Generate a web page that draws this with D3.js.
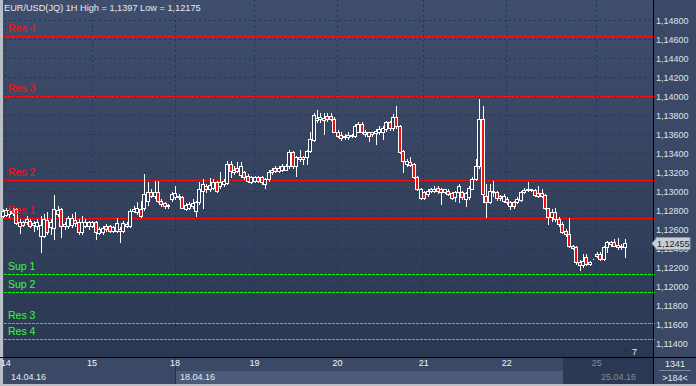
<!DOCTYPE html>
<html>
<head>
<meta charset="utf-8">
<script src="https://cdnjs.cloudflare.com/ajax/libs/d3/7.8.5/d3.min.js"></script>
<style>
  html, body { margin: 0; padding: 0; background: #3b4966; }
  svg { display: block; font-family: "Liberation Sans", Arial, sans-serif; }
</style>
</head>
<body>
<div id="chart"></div>
<script>
// EUR/USD 1H candles, 13.04 23:00 .. 25.04
const opens = [
  1.1274,1.1275,1.1276,1.1280,1.1281,1.1264,1.1268,1.1268,1.1269,1.1265,1.1264,1.1253,1.1253,1.1270,1.1262,1.1261,
  1.1276,1.1281,1.1264,1.1264,1.1265,1.1270,1.1268,1.1257,1.1264,1.1264,1.1264,1.1268,1.1256,1.1257,1.1264,1.1264,
  1.1258,1.1258,1.1260,1.1258,1.1266,1.1264,1.1279,1.1278,1.1281,1.1282,1.1290,1.1299,1.1295,
  1.1299,1.1290,1.1288,1.1285,1.1292,1.1294,1.1295,1.1294,1.1281,1.1283,1.1285,1.1279,1.1289,1.1300,1.1306,1.1303,
  1.1304,1.1310,1.1306,1.1308,1.1309,1.1329,1.1320,1.1325,1.1317,1.1320,1.1316,1.1310,1.1311,1.1315,1.1315,1.1308,
  1.1313,1.1320,1.1325,1.1321,1.1323,1.1323,1.1327,1.1341,1.1327,1.1334,1.1336,1.1336,1.1342,1.1354,1.1375,1.1376,
  1.1375,1.1379,1.1379,1.1376,1.1363,1.1359,1.1357,1.1357,1.1358,1.1358,1.1363,1.1371,1.1363,1.1362,1.1360,1.1361,
  1.1362,1.1362,1.1366,1.1373,1.1367,1.1378,1.1369,1.1342,1.1329,1.1331,1.1329,1.1315,1.1293,1.1299,1.1297,1.1300,
  1.1300,1.1304,1.1302,1.1299,1.1300,1.1298,1.1294,1.1299,1.1299,1.1292,1.1294,1.1303,1.1313,1.1327,1.1376,
  1.1295,1.1289,1.1299,1.1299,1.1295,1.1290,1.1292,1.1285,1.1289,1.1289,1.1291,1.1299,1.1301,1.1302,1.1301,1.1298,
  1.1298,1.1296,1.1282,1.1273,1.1278,1.1271,1.1266,1.1258,1.1255,1.1243,1.1241,1.1226,1.1222,1.1231,1.1224,1.1229,
  1.1232,1.1234,1.1229,1.1241,1.1245,1.1247,1.1244,1.1243,1.1241
];
const highs = [
  1.1281,1.1282,1.1283,1.1282,1.1283,1.1271,1.1269,1.1274,1.1271,1.1269,1.1271,1.1274,1.1276,1.1278,1.1271,1.1296,
  1.1285,1.1283,1.1268,1.1274,1.1276,1.1278,1.1271,1.1274,1.1271,1.1269,1.1269,1.1269,1.1262,1.1264,1.1266,1.1265,
  1.1264,1.1272,1.1262,1.1269,1.1268,1.1281,1.1285,1.1289,1.1290,1.1318,1.1310,1.1302,1.1311,
  1.1311,1.1292,1.1289,1.1287,1.1299,1.1306,1.1297,1.1295,1.1288,1.1289,1.1292,1.1290,1.1310,1.1313,1.1308,1.1314,
  1.1313,1.1311,1.1320,1.1313,1.1332,1.1332,1.1327,1.1331,1.1331,1.1321,1.1318,1.1316,1.1316,1.1316,1.1316,1.1314,
  1.1322,1.1325,1.1327,1.1327,1.1329,1.1329,1.1344,1.1343,1.1337,1.1344,1.1337,1.1344,1.1362,1.1383,1.1386,1.1383,
  1.1383,1.1383,1.1383,1.1378,1.1365,1.1362,1.1360,1.1362,1.1360,1.1371,1.1373,1.1373,1.1365,1.1363,1.1363,1.1366,
  1.1369,1.1369,1.1374,1.1374,1.1381,1.1390,1.1370,1.1344,1.1334,1.1336,1.1330,1.1316,1.1304,1.1300,1.1302,1.1304,
  1.1306,1.1306,1.1304,1.1303,1.1302,1.1299,1.1300,1.1308,1.1300,1.1299,1.1306,1.1315,1.1334,1.1397,1.1390,
  1.1308,1.1308,1.1311,1.1300,1.1296,1.1297,1.1294,1.1290,1.1290,1.1294,1.1300,1.1304,1.1310,1.1303,1.1302,1.1306,
  1.1303,1.1297,1.1283,1.1281,1.1283,1.1273,1.1268,1.1260,1.1272,1.1244,1.1243,1.1228,1.1234,1.1234,1.1227,1.1229,
  1.1236,1.1236,1.1243,1.1248,1.1248,1.1250,1.1251,1.1245,1.1250
];
const lows = [
  1.1273,1.1274,1.1273,1.1275,1.1266,1.1256,1.1264,1.1266,1.1262,1.1258,1.1260,1.1236,1.1252,1.1255,1.1255,1.1250,
  1.1274,1.1252,1.1260,1.1261,1.1262,1.1264,1.1255,1.1255,1.1262,1.1260,1.1262,1.1250,1.1255,1.1255,1.1258,1.1257,
  1.1257,1.1257,1.1247,1.1257,1.1262,1.1262,1.1278,1.1276,1.1273,1.1280,1.1286,1.1294,1.1293,
  1.1289,1.1285,1.1283,1.1283,1.1290,1.1292,1.1292,1.1282,1.1280,1.1281,1.1283,1.1274,1.1287,1.1283,1.1299,1.1300,
  1.1302,1.1299,1.1304,1.1306,1.1308,1.1315,1.1318,1.1320,1.1315,1.1313,1.1310,1.1309,1.1310,1.1310,1.1308,1.1304,
  1.1311,1.1318,1.1320,1.1320,1.1321,1.1322,1.1325,1.1325,1.1316,1.1332,1.1329,1.1329,1.1341,1.1353,1.1373,1.1373,
  1.1360,1.1374,1.1375,1.1362,1.1357,1.1354,1.1355,1.1355,1.1357,1.1357,1.1362,1.1361,1.1358,1.1353,1.1358,1.1350,
  1.1360,1.1355,1.1364,1.1365,1.1365,1.1367,1.1340,1.1320,1.1327,1.1327,1.1314,1.1301,1.1292,1.1292,1.1295,1.1299,
  1.1299,1.1298,1.1287,1.1298,1.1296,1.1292,1.1290,1.1289,1.1292,1.1285,1.1292,1.1302,1.1312,1.1325,1.1289,
  1.1273,1.1288,1.1295,1.1291,1.1291,1.1289,1.1287,1.1281,1.1283,1.1288,1.1290,1.1298,1.1300,1.1300,1.1295,1.1294,
  1.1294,1.1281,1.1266,1.1269,1.1269,1.1264,1.1256,1.1253,1.1241,1.1239,1.1224,1.12175,1.1220,1.1223,1.1223,1.1229,
  1.1231,1.1228,1.1228,1.1236,1.1243,1.1243,1.1239,1.1239,1.1231
];
const closes = [
  1.1279,1.1280,1.1280,1.1277,1.1267,1.1268,1.1265,1.1271,1.1264,1.1267,1.1268,1.1265,1.1271,1.1257,1.1268,1.1281,
  1.1280,1.1264,1.1266,1.1272,1.1272,1.1267,1.1257,1.1268,1.1268,1.1268,1.1268,1.1257,1.1260,1.1261,1.1260,1.1258,
  1.1262,1.1267,1.1258,1.1267,1.1264,1.1279,1.1281,1.1283,1.1274,1.1297,1.1299,1.1295,1.1299,
  1.1290,1.1287,1.1285,1.1286,1.1297,1.1298,1.1294,1.1283,1.1286,1.1287,1.1288,1.1289,1.1302,1.1308,1.1302,1.1307,
  1.1310,1.1300,1.1310,1.1311,1.1329,1.1321,1.1323,1.1321,1.1327,1.1315,1.1311,1.1315,1.1315,1.1311,1.1310,1.1313,
  1.1320,1.1323,1.1321,1.1325,1.1327,1.1327,1.1341,1.1327,1.1336,1.1336,1.1334,1.1342,1.1355,1.1380,1.1377,1.1378,
  1.1377,1.1376,1.1376,1.1363,1.1358,1.1356,1.1358,1.1359,1.1359,1.1369,1.1371,1.1362,1.1360,1.1358,1.1362,1.1364,
  1.1366,1.1367,1.1373,1.1367,1.1378,1.1369,1.1341,1.1332,1.1332,1.1328,1.1315,1.1302,1.1302,1.1293,1.1300,1.1302,
  1.1303,1.1300,1.1299,1.1302,1.1297,1.1293,1.1299,1.1306,1.1294,1.1298,1.1304,1.1313,1.1327,1.1376,1.1297,
  1.1289,1.1300,1.1300,1.1293,1.1293,1.1295,1.1289,1.1289,1.1285,1.1292,1.1299,1.1301,1.1302,1.1301,1.1296,1.1295,
  1.1295,1.1282,1.1273,1.1278,1.1271,1.1266,1.1257,1.1255,1.1243,1.1240,1.1226,1.1222,1.1227,1.1224,1.1226,1.1229,
  1.1234,1.1229,1.1241,1.1247,1.1247,1.1243,1.1241,1.1241,1.12455
];

// first candle index of each day and its label
const dayStarts = [1, 26, 50, 73, 97, 122, 146, 172];
const dayLabels = ['14', '15', '18', '19', '20', '21', '22', '25'];

const priceTicks = [1.114, 1.116, 1.118, 1.120, 1.122, 1.124, 1.126, 1.128, 1.130,
  1.132, 1.134, 1.136, 1.138, 1.140, 1.142, 1.144, 1.146, 1.148];

// support / resistance lines
const levelNames = ['Res 4', 'Res 3', 'Res 2', 'Res 1', 'Sup 1', 'Sup 2', 'Res 3', 'Res 4'];
const levelValues = [1.1464, 1.1400, 1.1312, 1.1272, 1.1213, 1.1194, 1.1161, 1.1145];
const levelSide = ['up', 'up', 'up', 'up', 'down', 'down', 'down', 'down'];

const title = 'EUR/USD(JQ) 1H High = 1,1397 Low = 1,12175';
const lastPrice = closes[closes.length - 1];

const width = 696;
const height = 386;
const plot = { left: 4, right: 653, top: 0, bottom: 357 };

const fmt = v => d3.format('.5f')(v).replace('.', ',');

const x = d3.scaleLinear()
  .domain([0, closes.length - 1])
  .range([3.5, 625.5]);

const y = d3.scaleLinear()
  .domain([1.114, 1.148])
  .range([343.4, 20.4]);

const svg = d3.select('#chart')
  .append('svg')
    .attr('width', width)
    .attr('height', height);

const defs = svg.append('defs');
const grad = defs.append('linearGradient')
  .attr('id', 'bg')
  .attr('x1', 0).attr('y1', 0).attr('x2', 0).attr('y2', 1);
grad.append('stop').attr('offset', 0).attr('stop-color', '#3f4e6c');
grad.append('stop').attr('offset', 1).attr('stop-color', '#2b3852');

// frame
svg.append('rect')
  .attr('width', width).attr('height', height)
  .attr('fill', '#3b4966');
svg.append('rect')
  .attr('x', plot.left).attr('y', plot.top)
  .attr('width', plot.right - plot.left).attr('height', plot.bottom - plot.top)
  .attr('fill', 'url(#bg)');
svg.append('rect')
  .attr('x', 0).attr('y', 0).attr('width', 3).attr('height', height)
  .attr('fill', '#b9bec7');
svg.append('rect')
  .attr('x', 0).attr('y', height - 2).attr('width', width).attr('height', 2)
  .attr('fill', '#b9bec7');

const chart = svg.append('g');

// grid
chart.append('g')
  .selectAll('line')
  .data(priceTicks)
  .join('line')
    .attr('x1', plot.left).attr('x2', plot.right)
    .attr('y1', d => Math.round(y(d)) + 0.5)
    .attr('y2', d => Math.round(y(d)) + 0.5)
    .attr('stroke', '#1d3560')
    .attr('stroke-dasharray', '2,3');

chart.append('g')
  .selectAll('line')
  .data(dayStarts)
  .join('line')
    .attr('x1', d => Math.round(x(d - 0.5)) + 0.5)
    .attr('x2', d => Math.round(x(d - 0.5)) + 0.5)
    .attr('y1', plot.top).attr('y2', plot.bottom)
    .attr('stroke', '#1d3560')
    .attr('stroke-dasharray', '2,3');

// levels, drawn as short dashes
const levelColor = s => s === 'up' ? '#ff1414' : '#1cf01c';
const dashes = d3.range(plot.left, plot.right, 4);
const levelRows = chart.append('g')
  .selectAll('g')
  .data(levelValues)
  .join('g')
    .attr('fill', (d, i) => levelColor(levelSide[i]));

levelRows.selectAll('rect')
  .data(d => dashes.map(dx => ({ dx, v: d })))
  .join('rect')
    .attr('x', d => d.dx)
    .attr('y', d => Math.round(y(d.v)))
    .attr('width', 3)
    .attr('height', 1);

// candles
const candles = chart.append('g');

const idx = d3.range(closes.length);

candles.selectAll('rect.wick')
  .data(idx)
  .join('rect')
    .attr('class', 'wick')
    .attr('x', i => Math.round(x(i)) - 1)
    .attr('y', i => Math.round(y(highs[i])))
    .attr('width', 1)
    .attr('height', i => Math.round(y(lows[i])) - Math.round(y(highs[i])) + 1)
    .attr('fill', '#ffffff');

candles.selectAll('rect.body')
  .data(idx)
  .join('rect')
    .attr('class', 'body')
    .attr('x', i => Math.round(x(i)) - 2.5)
    .attr('y', i => Math.round(y(Math.max(opens[i], closes[i]))) + 0.5)
    .attr('width', 3)
    .attr('height', i => Math.max(0, Math.round(y(Math.min(opens[i], closes[i]))) - Math.round(y(Math.max(opens[i], closes[i])))))
    .attr('fill', i => closes[i] < opens[i] ? '#ee1111' : '#2f3c58')
    .attr('stroke', '#ffffff');

// level labels
svg.append('g')
  .selectAll('text')
  .data(levelNames)
  .join('text')
    .attr('x', 8)
    .attr('y', (d, i) => Math.round(y(levelValues[i])) - 4)
    .attr('fill', (d, i) => levelSide[i] === 'up' ? '#ff1010' : '#33ff33')
    .attr('font-size', 10.5)
    .text(d => d);

// title
svg.append('text')
  .attr('x', 4).attr('y', 11)
  .attr('fill', '#e6eaf0')
  .attr('font-size', 9.2)
  .text(title);

// right price axis
svg.append('rect')
  .attr('x', plot.right).attr('y', 0).attr('width', 1).attr('height', height - 2)
  .attr('fill', '#000');

const axisY = d3.axisRight(y)
  .tickValues(priceTicks)
  .tickSize(0)
  .tickPadding(3)
  .tickFormat(fmt);

svg.append('g')
  .attr('transform', `translate(${plot.right}, 0)`)
  .call(axisY)
  .call(g => g.select('.domain').remove())
  .call(g => g.selectAll('text')
    .attr('fill', '#dfe4ec')
    .attr('font-size', 9)
    .attr('font-family', '"Liberation Sans", Arial, sans-serif'));

// last price tag (covers the 1,12400 label as in the terminal)
const tagY = Math.round(y(lastPrice)) + 0.5;
svg.append('path')
  .attr('d', `M${plot.right - 1},${tagY} L${plot.right + 3},${tagY - 5} L${plot.right + 3},${tagY - 6} L${plot.right + 37},${tagY - 6} L${plot.right + 37},${tagY + 6} L${plot.right + 3},${tagY + 6} L${plot.right + 3},${tagY + 5} Z`)
  .attr('fill', '#c9cdd4')
  .attr('stroke', '#8f96a3');
svg.append('text')
  .attr('x', plot.right + 4).attr('y', tagY + 3.5)
  .attr('fill', '#1a1f2a')
  .attr('font-size', 9)
  .text(fmt(lastPrice));

// bottom time axis
svg.append('rect')
  .attr('x', 176).attr('y', 371).attr('width', plot.right - 176).attr('height', 13)
  .attr('fill', '#4a5a78');
svg.append('rect')
  .attr('x', 563).attr('y', 358).attr('width', plot.right - 563).attr('height', 26)
  .attr('fill', '#2c3853');
svg.append('rect')
  .attr('x', 175).attr('y', 358).attr('width', 1).attr('height', 26)
  .attr('fill', '#27324a');
svg.append('rect')
  .attr('x', 0).attr('y', plot.bottom).attr('width', width).attr('height', 1)
  .attr('fill', '#000');

const axisX = d3.axisBottom(x)
  .tickValues(dayStarts.map(d => d - 0.5))
  .tickSize(0)
  .tickPadding(3)
  .tickFormat((d, i) => dayLabels[i]);

svg.append('g')
  .attr('transform', `translate(0, ${plot.bottom})`)
  .call(axisX)
  .call(g => g.select('.domain').remove())
  .call(g => g.selectAll('text')
    .attr('fill', (d, i) => i === dayLabels.length - 1 ? '#7f8ba0' : '#f2f4f8')
    .attr('font-size', 9)
    .attr('font-family', '"Liberation Sans", Arial, sans-serif'));

const dateLabels = [['14.04.16', 11, '#e6eaf0'], ['18.04.16', 180, '#e6eaf0'], ['25.04.16', 601, '#7f8ba0']];
svg.append('g')
  .selectAll('text')
  .data(dateLabels)
  .join('text')
    .attr('x', d => d[1]).attr('y', 380)
    .attr('fill', d => d[2])
    .attr('font-size', 9)
    .text(d => d[0]);

// scroll marker
svg.append('path')
  .attr('d', 'M622,352 L626,348 L630,352 Z')
  .attr('fill', '#27324a');
svg.append('text')
  .attr('x', 632).attr('y', 355)
  .attr('fill', '#f2f4f8')
  .attr('font-size', 9)
  .text('7');

// bottom right counters
svg.append('text')
  .attr('x', 675).attr('y', 367)
  .attr('text-anchor', 'middle')
  .attr('fill', '#e6eaf0')
  .attr('font-size', 9)
  .text('1341');
svg.append('rect')
  .attr('x', 659).attr('y', 370).attr('width', 32).attr('height', 1)
  .attr('fill', '#7d889c');
svg.append('text')
  .attr('x', 675).attr('y', 381)
  .attr('text-anchor', 'middle')
  .attr('fill', '#e6eaf0')
  .attr('font-size', 9)
  .text('>184<');
</script>
</body>
</html>
